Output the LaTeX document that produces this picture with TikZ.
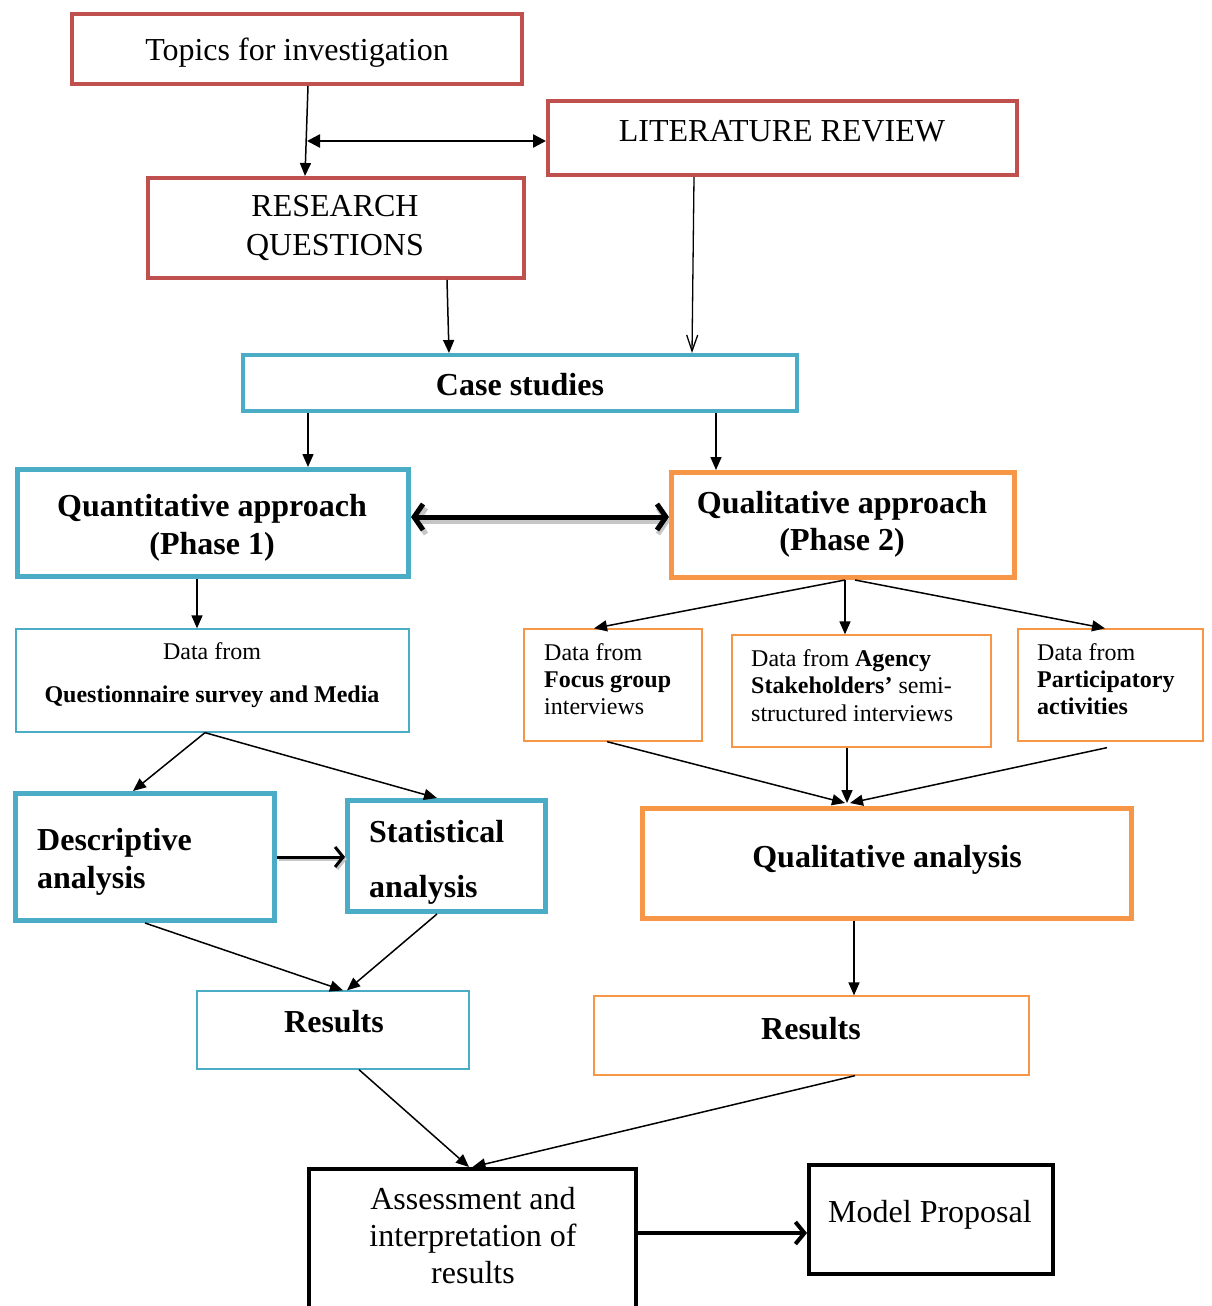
\documentclass[tikz,border=0pt]{standalone}
\usepackage{fontspec}
\setmainfont{Liberation Serif}
\usetikzlibrary{arrows.meta}
\definecolor{cred}{HTML}{C0504D}
\definecolor{cblue}{HTML}{4BACC6}
\definecolor{corange}{HTML}{F79646}
\begin{document}
\begin{tikzpicture}[x=1pt,y=-1pt,
  redbox/.style={draw=cred, line width=4pt, inner sep=0},
  bluebox/.style={draw=cblue, line width=5pt, inner sep=0},
  orangebox/.style={draw=corange, line width=5pt, inner sep=0},
  thinblue/.style={draw=cblue, line width=1.3pt, inner sep=0},
  thinorange/.style={draw=corange, line width=1.3pt, inner sep=0},
  blackbox/.style={draw=black, line width=4pt, inner sep=0},
  tl/.style={inner sep=0, anchor=base, font=\fontsize{32}{39}\selectfont},
  tlb/.style={tl, font=\fontsize{32}{39}\selectfont\bfseries},
  tlw/.style={tlb, anchor=base west},
  ts/.style={inner sep=0, anchor=base, font=\fontsize{24}{28}\selectfont},
  tsw/.style={ts, anchor=base west},
  arr/.style={line width=1.5pt, -{Triangle[length=13pt,width=11pt]}},
  openarr/.style={line width=1.3pt, -{Straight Barb[length=16pt,width=11pt]}},
  twoarr/.style={line width=2.5pt, {Triangle[length=13pt,width=13pt]}-{Triangle[length=13pt,width=13pt]}},
]
\useasboundingbox (0,0) rectangle (1212,1306);

% boxes
\node[redbox, minimum width=450pt, minimum height=70pt] (topics) at (297,49) {};
\node[redbox, minimum width=469pt, minimum height=74pt] (litrev) at (782.5,138) {};
\node[redbox, minimum width=376pt, minimum height=100pt] (rq) at (336,228) {};
\node[bluebox, line width=4pt, minimum width=554pt, minimum height=56pt] (case) at (520,383) {};
\node[bluebox, minimum width=391pt, minimum height=107pt] (quant) at (213,523) {};
\node[orangebox, minimum width=343pt, minimum height=105pt] (qualapp) at (843,525) {};
\node[thinblue, minimum width=393pt, minimum height=103pt] (dataq) at (212.5,680.5) {};
\node[thinorange, minimum width=178pt, minimum height=112pt] (focus) at (613,685) {};
\node[thinorange, minimum width=259pt, minimum height=112pt] (agency) at (861.5,691) {};
\node[thinorange, minimum width=185pt, minimum height=112pt] (partic) at (1110.5,685) {};
\node[bluebox, minimum width=259pt, minimum height=127pt] (desc) at (145,857) {};
\node[bluebox, minimum width=198pt, minimum height=111pt] (stat) at (446.5,856) {};
\node[orangebox, minimum width=489pt, minimum height=110pt] (qualan) at (887,863.5) {};
\node[thinblue, minimum width=272pt, minimum height=78pt] (resl) at (333,1030) {};
\node[thinorange, minimum width=435pt, minimum height=79pt] (resr) at (811.5,1035.5) {};
\node[blackbox, minimum width=327pt, minimum height=152pt] (assess) at (472.5,1245) {};
\node[blackbox, minimum width=244pt, minimum height=109pt] (model) at (931,1219.5) {};

% texts
\node[tl] (t1) at (297,60) {Topics for investigation};
\node[tl] (t2) at (782,141) {LITERATURE REVIEW};
\node[tl] (t3a) at (335,216) {RESEARCH};
\node[tl] (t3b) at (335,255) {QUESTIONS};
\node[tlb] (t4) at (520,395) {Case studies};
\node[tlb] (t5a) at (212,516) {Quantitative approach};
\node[tlb] (t5b) at (212,554) {(Phase 1)};
\node[tlb] (t6a) at (842,513) {Qualitative approach};
\node[tlb] (t6b) at (842,550) {(Phase 2)};
\node[ts] (t7a) at (212,659) {Data from};
\node[ts, font=\fontsize{24}{28}\selectfont\bfseries] (t7b) at (212,702) {Questionnaire survey and Media};
\node[tsw] (t8a) at (544,660) {Data from};
\node[tsw, font=\fontsize{24}{28}\selectfont\bfseries] (t8b) at (544,687) {Focus group};
\node[tsw] (t8c) at (544,714) {interviews};
\node[tsw] (t9a) at (751,666) {Data from \textbf{Agency}};
\node[tsw] (t9b) at (751,693) {\textbf{Stakeholders’} semi-};
\node[tsw] (t9c) at (751,721) {structured interviews};
\node[tsw] (t10a) at (1037,660) {Data from};
\node[tsw, font=\fontsize{24}{28}\selectfont\bfseries] (t10b) at (1037,687) {Participatory};
\node[tsw, font=\fontsize{24}{28}\selectfont\bfseries] (t10c) at (1037,714) {activities};
\node[tlw] (t11a) at (37,850) {Descriptive};
\node[tlw] (t11b) at (37,888) {analysis};
\node[tlw] (t12a) at (369,842) {Statistical};
\node[tlw] (t12b) at (369,897) {analysis};
\node[tlb] (t13) at (887,867) {Qualitative analysis};
\node[tlb] (t14) at (334,1032) {Results};
\node[tlb] (t15) at (811,1039) {Results};
\node[tl] (t16a) at (473,1209) {Assessment and};
\node[tl] (t16b) at (473,1246) {interpretation of};
\node[tl] (t16c) at (473,1283) {results};
\node[tl] (t17) at (930,1222) {Model Proposal};

% connectors
\coordinate (j) at (307,141);
\draw[arr] ([xshift=11pt]topics.south) -- ([xshift=-31pt]rq.north);
\draw[twoarr] (j) -- (litrev.west |- j);
\draw[openarr] ([xshift=-88.5pt]litrev.south) -- ([xshift=172pt]case.north);
\draw[arr] ([xshift=111pt]rq.south) -- ([xshift=-71pt]case.north);
\draw[arr] ([xshift=-212pt]case.south) -- ([xshift=95pt]quant.north);
\draw[arr] ([xshift=196pt]case.south) -- ([xshift=-127pt]qualapp.north);
% thick double arrow with shadow
\draw[gray!45, line width=5pt, {Straight Barb[length=9pt,width=26pt]}-{Straight Barb[length=9pt,width=26pt]}]
  ([xshift=3pt,yshift=2pt]quant.east) -- ([xshift=1pt,yshift=4pt]qualapp.west);
\draw[line width=5pt, {Straight Barb[length=9pt,width=26pt]}-{Straight Barb[length=9pt,width=26pt]}]
  ([yshift=6pt]quant.east) -- ([yshift=8pt]qualapp.west);
\draw[arr] ([xshift=-16pt]quant.south) -- ([xshift=-15.5pt]dataq.north);
\draw[arr] ([xshift=2pt]qualapp.south) -- ([xshift=-19pt]focus.north);
\draw[arr] ([xshift=2pt]qualapp.south) -- ([xshift=-16.5pt]agency.north);
\draw[arr] ([xshift=12pt]qualapp.south) -- ([xshift=-5.5pt]partic.north);
\draw[arr] ([xshift=-7.5pt]dataq.south) -- ([xshift=-12pt]desc.north);
\draw[arr] ([xshift=-7.5pt]dataq.south) -- ([xshift=-9.5pt]stat.north);
\draw[gray!45, line width=3pt, -{Straight Barb[length=8pt,width=20pt]}]
  ([xshift=2pt,yshift=-2pt]desc.east) -- ([xshift=2pt,yshift=-2pt]stat.west |- desc.east);
\draw[line width=3pt, -{Straight Barb[length=8pt,width=20pt]}] (desc.east) -- (stat.west |- desc.east);
\draw[arr] ([xshift=-6pt]focus.south) -- ([xshift=-42pt,yshift=3pt]qualan.north);
\draw[arr] ([xshift=-14.5pt]agency.south) -- ([xshift=-40pt,yshift=3pt]qualan.north);
\draw[arr] ([xshift=-3.5pt,yshift=-6pt]partic.south) -- ([xshift=-37pt,yshift=3pt]qualan.north);
\draw[arr] ([xshift=-33pt]qualan.south) -- ([xshift=42.5pt]resr.north);
\draw[arr] (desc.south) -- ([xshift=10pt]resl.north);
\draw[arr] ([xshift=-9.5pt]stat.south) -- ([xshift=14pt]resl.north);
\draw[arr] ([xshift=26pt]resl.south) -- ([xshift=-3.5pt]assess.north);
\draw[arr] ([xshift=43.5pt]resr.south) -- ([xshift=0pt]assess.north);
\draw[line width=4pt, -{Straight Barb[length=9pt,width=22pt]}] ([yshift=12pt]assess.east) -- ([yshift=-13.5pt]model.west);
\end{tikzpicture}
\end{document}
